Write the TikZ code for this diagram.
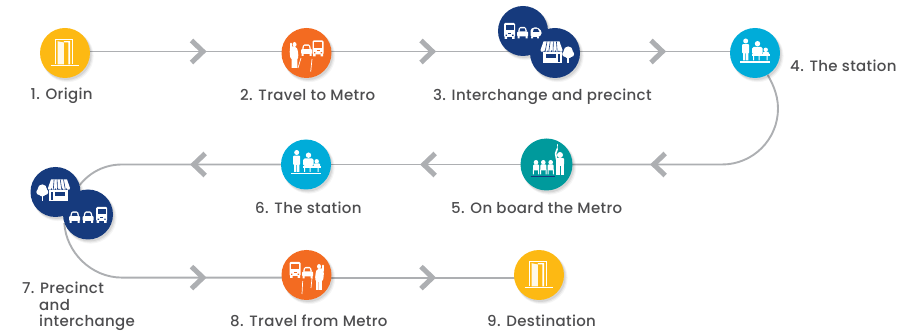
\documentclass[tikz,border=0pt]{standalone}
\usepackage{fontspec}
\setmainfont{Poppins Medium}[LetterSpace=2.3]
\usetikzlibrary{shadows,backgrounds}
\definecolor{ambr}{HTML}{FDB913}
\definecolor{orng}{HTML}{F36B21}
\definecolor{navy}{HTML}{163A7D}
\definecolor{cyn}{HTML}{00ACD9}
\definecolor{teal2}{HTML}{009A9C}
\definecolor{linegr}{HTML}{ADAFB2}
\definecolor{txt}{HTML}{4D4D4F}
\tikzset{
  stopc/.style={circle,minimum size=50pt,inner sep=0pt,draw=none,
    general shadow={shadow xshift=2.5pt,shadow yshift=-3pt,shadow scale=1.04,fill=black,opacity=.04},
    general shadow={shadow xshift=2pt,shadow yshift=-2.5pt,shadow scale=1.02,fill=black,opacity=.06},
    general shadow={shadow xshift=1.5pt,shadow yshift=-2pt,fill=black,opacity=.08}},
  conn/.style={draw=linegr,line width=1.9pt},
  labfont/.style={text=txt,font=\fontsize{15}{16.5}\selectfont,inner sep=0pt},
  lab/.style={labfont,anchor=base west},
  pics/chevr/.style={code={\draw[linegr,line width=5pt,miter limit=10] (-11.5,-11) -- (0,0) -- (-11.5,11);}},
  pics/busico/.style={code={
    \fill[white,rounded corners=1.2pt] (-5.5,-8) rectangle (5.5,6);
    \fill[white] (-5,5) rectangle (-2.5,8) (2.5,5) rectangle (5,8);
    \fill[#1] (-4,-6) rectangle (4,-0.5);
    \fill[#1] (-4,3.6) rectangle (-2.6,4.8) (2.6,3.6) rectangle (4,4.8);
    \fill[#1] (-1.5,2) rectangle (1.5,2.8);}},
  pics/carico/.style={code={
    \fill[white,rounded corners=1pt] (-5.5,-0.5) rectangle (5.5,4.5);
    \fill[white,rounded corners=1.2pt] (-4.6,0) -- (-3.2,-5) -- (3.2,-5) -- (4.6,0) -- cycle;
    \fill[white] (-5,4) rectangle (-3,6.5) (3,4) rectangle (5,6.5);
    \fill[#1] (-3,-0.6) -- (-2.2,-3.5) -- (2.2,-3.5) -- (3,-0.6) -- cycle;}},
  pics/carsideico/.style={code={
    \fill[white,rounded corners=1.5pt] (-5.5,4.5) -- (-5.5,-3) -- (-3,-5) -- (2,-5) -- (5.8,-1) -- (5.5,2) -- (3,4.5) -- cycle;
    \fill[white] (-4.8,4) rectangle (-3,6) (1,4) rectangle (2.8,6);
    \fill[#1] (-3,-0.6) -- (-2.2,-3.5) -- (1.8,-3.5) -- (3.4,-0.6) -- cycle;}},
  pics/shopico/.style={code={
    \fill[white] (-11.5,-11.5) -- (4.5,-11.5) -- (7.5,-3) -- (-14.5,-3) -- cycle;
    \foreach \a in {-14.5,-10.8,-7.1,-3.4,0.3,4}{\fill[white] (\a,-3.1) -- ++(3.6,0) -- ++(-.6,1.8) -- ++(-2.4,0) -- cycle;}
    \foreach \a/\b in {-8/-9.8,-4.8/-6.2,-1.6/-2,1.4/2.2}{\draw[#1,line width=.6pt] (\a,-11.5) -- (\b,-1.5);}
    \fill[white] (-12,-0.5) rectangle (6.5,10.5);
    \fill[#1] (-9.5,1.5) rectangle (0.5,5.5);
    \fill[#1] (2.5,1.5) rectangle (4.7,9.5);
    \fill[white] (13.2,-2) circle (4.6) (10.2,1) circle (3) (16.2,1) circle (3) (13.2,2) circle (3.5);
    \fill[white] (12.4,2) rectangle (14,10.5);}},
  pics/doorico/.style={code={
    \draw[white,line width=1.2pt] (-9.2,11.5) -- (-9.2,-13.8) -- (7.3,-13.8) -- (7.3,11.5);
    \draw[white,line width=1.4pt] (-14.3,12.4) -- (14,12.4);
    \fill[white,opacity=.9] (-7.4,-11.8) -- (-1.2,-10.5) -- (-1.2,11.5) -- (-7.4,11.5) -- cycle;
    \fill[white] (3.3,-10.5) -- (-1.2,-10.5) -- (-1.2,-11.8) -- (5,-11.8) -- (5,11.5) -- (3.3,11.5) -- cycle;}},
  pics/stationico/.style={code={
    \fill[white] (-9.3,-12) circle (2.5);
    \fill[white,rounded corners=1pt] (-13,-8.8) rectangle (-5.8,0.5);
    \fill[white] (-12,0) rectangle (-9.7,7.5) (-8.9,0) rectangle (-6.6,7.5);
    \fill[white] (2.5,-9.3) circle (2.7);
    \fill[white,rounded corners=1.5pt] (-3,1.5) -- (-3,-6) -- (7.5,-6) -- (7.5,1.5) -- cycle;
    \fill[white] (10.7,-3.2) circle (2.2);
    \fill[white,rounded corners=1pt] (7.5,2) -- (7.5,-1) -- (14,-1) -- (14,2) -- cycle;
    \fill[white] (-3.5,1.5) rectangle (14.5,3.2);
    \fill[white] (-2,3) rectangle (-0.8,7.5) (3.5,3) rectangle (4.7,7.5) (11.5,3) rectangle (12.7,7.5);
    \fill[white] (-15,8.3) rectangle (15,9.8);}},
  pics/seatedico/.style={code={
    \fill[white] (0,0) circle (2.3);
    \fill[white,rounded corners=1pt] (-3,2.2) rectangle (3,8);
    \fill[white] (-3.2,7) rectangle (-2.2,12) (2.2,7) rectangle (3.2,12);}},
  pics/manwaveico/.style={code={
    \fill[white] (0,0) circle (3);
    \fill[white,rounded corners=1pt] (-4,3.2) rectangle (4.2,10);
    \fill[white] (-3.6,9) rectangle (3.6,20);
    \draw[white,line width=1.6pt,line cap=round] (-3.4,4.5) -- (-4.4,-1.5) -- (-2.8,-6);
    \draw[white,line width=.6pt] (-2.8,-6) -- (-2.4,-11);
    \draw[#1,line width=.5pt] (0,11) -- (0,20);}},
  pics/waiterico/.style={code={
    \fill[white] (-0.5,-9.5) ellipse (2 and 2.5);
    \draw[white,line width=1.7pt,line cap=round] (-4.2,-5.5) -- (-4.2,-10.5);
    \fill[white,rounded corners=2pt] (-5,-7.5) -- (1.5,-7.5) -- (3.4,-1) -- (3,6) -- (-4,6) -- (-5.4,0) -- cycle;
    \fill[white] (-3.4,4) rectangle (-0.5,14) (-0.1,4) rectangle (2.4,14);}},
}
\begin{document}
\begin{tikzpicture}[x=1pt,y=-1pt]
\useasboundingbox (0,0) rectangle (900,331);
\coordinate (r1) at (0,51.5);
\coordinate (r2) at (0,164.5);
\coordinate (r3) at (0,277.6);

% stops
\node[stopc,fill=ambr] (n1) at (65,53) {};
\node[stopc,fill=orng] (n2) at (306.5,53) {};
\node[stopc,fill=navy] (n3a) at (523,31) {};
\node[stopc,fill=navy] (n3b) at (555,53) {};
\node[stopc,fill=cyn] (n4) at (755,53) {};
\node[stopc,fill=teal2,minimum size=52pt] (n5) at (546.5,164.5) {};
\node[stopc,fill=cyn] (n6) at (306,164.5) {};
\node[stopc,fill=navy] (n7a) at (55.5,192) {};
\node[stopc,fill=navy] (n7b) at (88,214.5) {};
\node[stopc,fill=orng] (n8) at (306.5,275) {};
\node[stopc,fill=ambr] (n9) at (539,275) {};

% connectors and chevrons, behind the stops
\begin{scope}[on background layer]
\draw[conn] (n1 |- r1) -- (n2 |- r1);
\draw[conn] (n2 |- r1) -- (n3b |- r1);
\draw[conn] (n3b |- r1) -- (n4 |- r1);
\draw[conn] (n4.-60) .. controls (771,81) and (778,93) .. (778,108.5)
   .. controls (778,139.5) and (753,164.5) .. (722,164.5) -- (n5 |- r2);
\draw[conn] (n5 |- r2) -- (n6 |- r2);
\draw[conn] (n6 |- r2) -- (122,164.5) .. controls (105,164.5) and (90,172) .. (n7a.16);
\draw[conn] (n7b.200) .. controls (66,252) and (91,277.6) .. (122,277.6) -- (n8 |- r3);
\draw[conn] (n8 |- r3) -- (n9 |- r3);
\pic at (203,51.5) {chevr};
\pic at (432.5,51.5) {chevr};
\pic at (662.5,51.5) {chevr};
\pic[xscale=-1] at (653.7,164.5) {chevr};
\pic[xscale=-1] at (423.7,164.5) {chevr};
\pic[xscale=-1] at (193.7,164.5) {chevr};
\pic at (203,277.6) {chevr};
\pic at (432.5,277.6) {chevr};
\end{scope}

% icons
\pic at (n1) {doorico};
\pic at (n9) {doorico};
\pic at (n4) {stationico};
\pic at (n6) {stationico};
% stop 2
\begin{scope}[shift={(n2)}]
\pic at (0,-3.5) {carico=orng};
\pic at (11.5,-4.5) {busico=orng};
\pic at (-11.5,1) {waiterico};
\draw[white,line width=.7pt] (-5.5,5) -- (-8.5,15) (5.5,6) -- (4.2,18.7);
\end{scope}
% stop 8
\begin{scope}[shift={(n8)}]
\pic at (-11.5,-5) {busico=orng};
\pic at (1,-3) {carico=orng};
\pic[xscale=-1] at (12,1) {waiterico};
\draw[white,line width=.7pt] (-3.8,6) -- (-4.5,19) (5.5,3) -- (4.5,13);
\end{scope}
% stop 3
\begin{scope}[shift={(n3a)}]
\pic at (-13.5,0) {busico=navy};
\pic at (-0.5,1) {carico=navy};
\pic at (13,1.5) {carsideico=navy};
\end{scope}
\pic at (n3b) {shopico=navy};
% stop 7
\pic[xscale=-1] at ([yshift=1pt]n7a.center) {shopico=navy};
\begin{scope}[shift={(n7b)}]
\pic at (-13.3,2) {carico=navy};
\pic at (0,2) {carico=navy};
\pic at (13.7,0.5) {busico=navy};
\end{scope}
% stop 5
\begin{scope}[shift={(n5)}]
\pic at (-10.5,-2.2) {seatedico};
\pic at (-3.2,-2.2) {seatedico};
\pic at (4.2,-2.2) {seatedico};
\draw[navy,line width=1pt] (-16,12) -- (8.5,12);
\pic at (13.5,-9.5) {manwaveico=teal2};
\end{scope}

% labels
\node[lab] (t1) at (30.5,100) {1. Origin};
\node[lab] (t2) at (240,101) {2. Travel to Metro};
\node[lab] (t3) at (433,101) {3. Interchange and precinct};
\node[lab] (t4) at (790,72) {4. The station};
\node[lab] (t5) at (451,214) {5. On board the Metro};
\node[lab] (t6) at (255,214) {6. The station};
\node[labfont,anchor=north west,align=left] (t7) at (22,282)
  {7. Precinct\\\hspace*{17pt}and\\\hspace*{17pt}interchange};
\node[lab] (t8) at (230,326) {8. Travel from Metro};
\node[lab] (t9) at (487,326) {9. Destination};
\end{tikzpicture}
\end{document}
